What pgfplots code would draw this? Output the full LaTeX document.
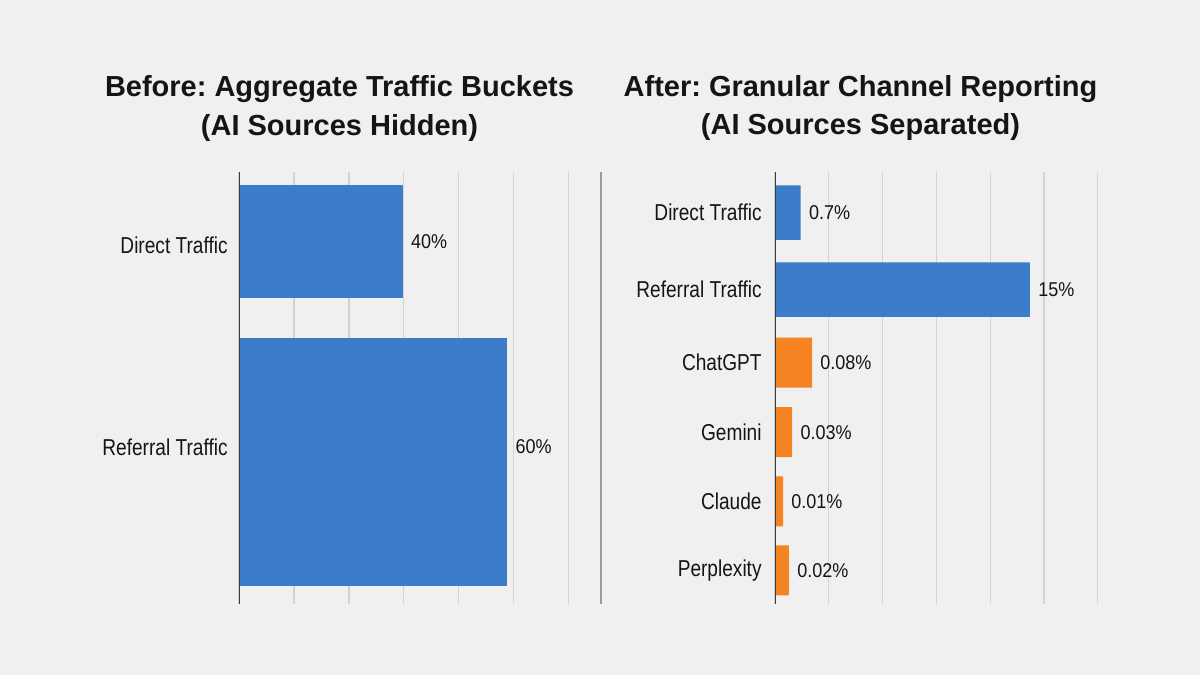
\documentclass[border=0pt]{standalone}
\usepackage{pgfplots}
\pgfplotsset{compat=1.18}
\usepackage{fontspec}
\setmainfont{Liberation Sans}
\newfontfamily\catfont{Liberation Sans}[FakeStretch=0.83]
\newfontfamily\valfont{Liberation Sans}[FakeStretch=0.9]
\definecolor{bg}{HTML}{F0F0F0}
\definecolor{barblue}{HTML}{3B7DC8}
\definecolor{barorange}{HTML}{F58322}
\definecolor{gridgray}{HTML}{D3D3D3}
\definecolor{axisgray}{HTML}{3A3A3A}
\definecolor{sepgray}{HTML}{9A9A9A}
\definecolor{txt}{HTML}{151515}
\frenchspacing
\pgfplotsset{
  panel/.style={
    scale only axis, height=216pt,
    xbar, xmin=0, xmax=6, xtick={0,...,6}, xticklabel=\empty, xmajorgrids,
    grid style={gridgray, line width=0.6pt},
    y dir=reverse, ymin=172, ymax=604,
    axis line style={draw=none},
    major tick length=0pt,
    yticklabel style={font=\catfont\fontsize{11.5}{12}\selectfont, text=txt, anchor=base east, inner sep=0pt, yshift=-4.1pt},
    point meta=explicit symbolic,
    nodes near coords,
    every node near coord/.append style={font=\valfont\fontsize{10}{12}\selectfont, text=txt, anchor=base west, inner sep=0pt, xshift=4pt, yshift=-3.6pt},
  }
}
\begin{document}
\begin{tikzpicture}
\fill[bg] (0,0) rectangle (600pt,337.5pt);
% titles
\node[font=\bfseries\fontsize{14.5}{17}\selectfont, text=txt, anchor=base] at (169.75pt,289.15pt) {Before: Aggregate Traffic Buckets};
\node[font=\bfseries\fontsize{14.5}{17}\selectfont, text=txt, anchor=base] at (169.75pt,269.5pt) {(AI Sources Hidden)};
\node[font=\bfseries\fontsize{14.5}{17}\selectfont, text=txt, anchor=base] at (430.25pt,289.15pt) {After: Granular Channel Reporting};
\node[font=\bfseries\fontsize{14.5}{17}\selectfont, text=txt, anchor=base] at (430.25pt,270pt) {(AI Sources Separated)};
% separator
\draw[sepgray, line width=0.6pt] (300.5pt,35.5pt) -- (300.5pt,251.5pt);
% left panel
\begin{axis}[panel, at={(119.5pt,35.5pt)}, anchor=south west, width=164.85pt,
  ytick={245.6,447}, yticklabels={Direct Traffic,Referral Traffic},
  yticklabel style={xshift=-5.5pt}]
\addplot[xbar, bar shift=0pt, bar width=113.3, fill=barblue, draw=none]
  coordinates {(2.98,241.65) [40\%]};
\addplot[xbar, bar shift=0pt, bar width=248, fill=barblue, draw=none,
  every node near coord/.append style={yshift=7.5pt}]
  coordinates {(4.88,461.7) [60\%]};
\draw[axisgray, line width=0.75pt] (rel axis cs:0,0) -- (rel axis cs:0,1);
\end{axis}
% right panel
\begin{axis}[panel, at={(387.5pt,35.5pt)}, anchor=south west, width=161.35pt,
  ytick={212.5,289.7,362.7,432,501.3,568.5},
  yticklabels={Direct Traffic,Referral Traffic,ChatGPT,Gemini,Claude,Perplexity},
  yticklabel style={xshift=-6.5pt}]
\addplot[xbar, bar shift=0pt, bar width=54.5, fill=barblue, draw=none]
  coordinates {(0.478,212.5) [0.7\%] (4.74,289.7) [15\%]};
\addplot[xbar, bar shift=0pt, bar width=50, fill=barorange, draw=none]
  coordinates {(0.688,362.7) [0.08\%] (0.32,432) [0.03\%] (0.149,501.3) [0.01\%] (0.26,570.3) [0.02\%]};
\draw[axisgray, line width=0.75pt] (rel axis cs:0,0) -- (rel axis cs:0,1);
\end{axis}
\end{tikzpicture}
\end{document}
